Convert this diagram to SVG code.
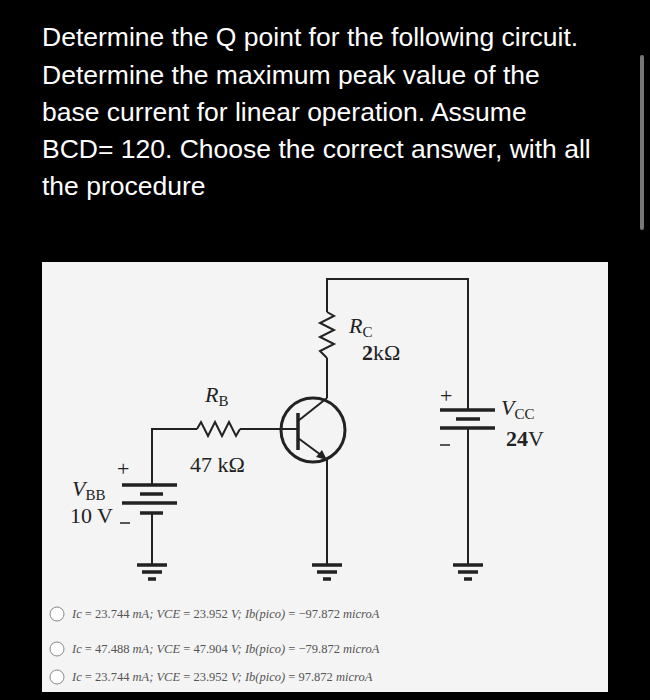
<svg xmlns="http://www.w3.org/2000/svg" width="650" height="700" viewBox="0 0 650 700">
<style>
.q{font-family:"Liberation Sans",Arial,sans-serif;font-size:26.5px;fill:#fff}
.w{stroke:#222;stroke-width:2;fill:none}
.p{stroke:#222;stroke-width:3.5}
.l{font-family:"Liberation Serif","Times New Roman",serif;font-size:22px;fill:#222}
.o{font-family:"Liberation Serif","Times New Roman",serif;font-size:12.5px;fill:#555;font-style:italic}
.n{font-style:normal}
</style>
<defs>
<g id="gnd"><line x1="-15" y1="0" x2="15" y2="0" class="p"/><line x1="-10" y1="7" x2="10" y2="7" class="p"/><line x1="-4" y1="14" x2="4" y2="14" class="p"/></g>
</defs>
<rect width="650" height="700" fill="#000"/>
<rect x="640" y="55" width="4" height="175" rx="2" fill="#777"/>
<g id="question">
<text class="q" x="42" y="46">Determine the Q point for the following circuit.</text>
<text class="q" x="42" y="84">Determine the maximum peak value of the</text>
<text class="q" x="42" y="121">base current for linear operation. Assume</text>
<text class="q" x="42" y="158">BCD= 120. Choose the correct answer, with all</text>
<text class="q" x="42" y="195">the procedure</text>
</g>
<rect x="42" y="262" width="566" height="430" fill="#f4f4f4"/>
<g id="connectors">
<polyline class="w" points="327,312 327,279 468,279 468,410"/>
<line class="w" x1="327" y1="358" x2="327" y2="398"/>
<line class="w" x1="327" y1="460" x2="327" y2="565"/>
<polyline class="w" points="152,485 152,429 197,429"/>
<line class="w" x1="240" y1="429" x2="298" y2="429"/>
<line class="w" x1="152" y1="513" x2="152" y2="565"/>
<line class="w" x1="468" y1="428" x2="468" y2="565"/>
</g>
<g id="RC">
<polyline class="w" points="327,312 334,316 320,323 334,330 320,337 334,344 320,351 327,358"/>
<text class="l" x="349" y="333" font-style="italic">R<tspan font-size="15" font-style="normal" dy="4">C</tspan></text>
<text class="l" x="362" y="360" font-weight="bold" font-family="Liberation Sans,sans-serif" font-size="19">2<tspan font-family="Liberation Serif,serif" font-weight="normal" font-size="22">kΩ</tspan></text>
</g>
<g id="RB">
<polyline class="w" points="197,429 201,422 208,436 215,422 222,436 229,422 236,436 240,429"/>
<text class="l" x="205" y="402" font-style="italic">R<tspan font-size="15" font-style="normal" dy="4">B</tspan></text>
<text class="l" x="190" y="472">47 kΩ</text>
</g>
<g id="Q1">
<circle cx="313" cy="430" r="32" fill="none" stroke="#222" stroke-width="3"/>
<line x1="298" y1="413" x2="298" y2="450" class="p"/>
<line class="w" x1="298" y1="421" x2="327" y2="398"/>
<line class="w" x1="298" y1="438" x2="325" y2="458"/>
<polygon points="327,460 316,457 322,450" fill="#222"/>
<use href="#gnd" x="327" y="565"/>
</g>
<g id="VBB">
<line x1="122" y1="485" x2="177" y2="485" class="p"/>
<line x1="140" y1="494" x2="163" y2="494" class="p"/>
<line x1="122" y1="503" x2="177" y2="503" class="p"/>
<line x1="140" y1="513" x2="163" y2="513" class="p"/>
<text class="l" x="117" y="476" font-family="Liberation Sans,sans-serif" font-size="20">+</text>
<line x1="120" y1="523" x2="130" y2="523" stroke="#222" stroke-width="1.5"/>
<text class="l" x="72" y="496" font-style="italic">V<tspan font-size="15" font-style="normal" dy="4">BB</tspan></text>
<text class="l" x="70" y="523">10 V</text>
<use href="#gnd" x="152" y="565"/>
</g>
<g id="VCC">
<line x1="440" y1="410" x2="495" y2="410" class="p"/>
<line x1="456" y1="419" x2="480" y2="419" class="p"/>
<line x1="440" y1="428" x2="495" y2="428" class="p"/>
<text class="l" x="440" y="403" font-family="Liberation Sans,sans-serif" font-size="20">+</text>
<line x1="440" y1="445" x2="450" y2="445" stroke="#222" stroke-width="1.5"/>
<text class="l" x="501" y="415" font-style="italic">V<tspan font-size="15" font-style="normal" dy="4">CC</tspan></text>
<text class="l" x="506" y="446" font-weight="bold" font-family="Liberation Sans,sans-serif" font-size="19">24<tspan font-family="Liberation Serif,serif" font-weight="normal" font-size="22">V</tspan></text>
<use href="#gnd" x="468" y="565"/>
</g>
<g id="options">
<circle cx="57" cy="614" r="7" fill="#fff" stroke="#888"/>
<circle cx="57" cy="649" r="7" fill="#fff" stroke="#888"/>
<circle cx="57" cy="677" r="7" fill="#fff" stroke="#888"/>
<text class="o" x="72" y="618">Ic <tspan class="n">= 23.744</tspan> mA; VCE <tspan class="n">= 23.952</tspan> V;  Ib(pico) <tspan class="n">= −97.872</tspan> microA</text>
<text class="o" x="72" y="653">Ic <tspan class="n">= 47.488</tspan> mA; VCE <tspan class="n">= 47.904</tspan> V;  Ib(pico) <tspan class="n">= −79.872</tspan> microA</text>
<text class="o" x="72" y="681">Ic <tspan class="n">= 23.744</tspan> mA; VCE <tspan class="n">= 23.952</tspan> V;  Ib(pico) <tspan class="n">= 97.872</tspan> microA</text>
</g>
</svg>
